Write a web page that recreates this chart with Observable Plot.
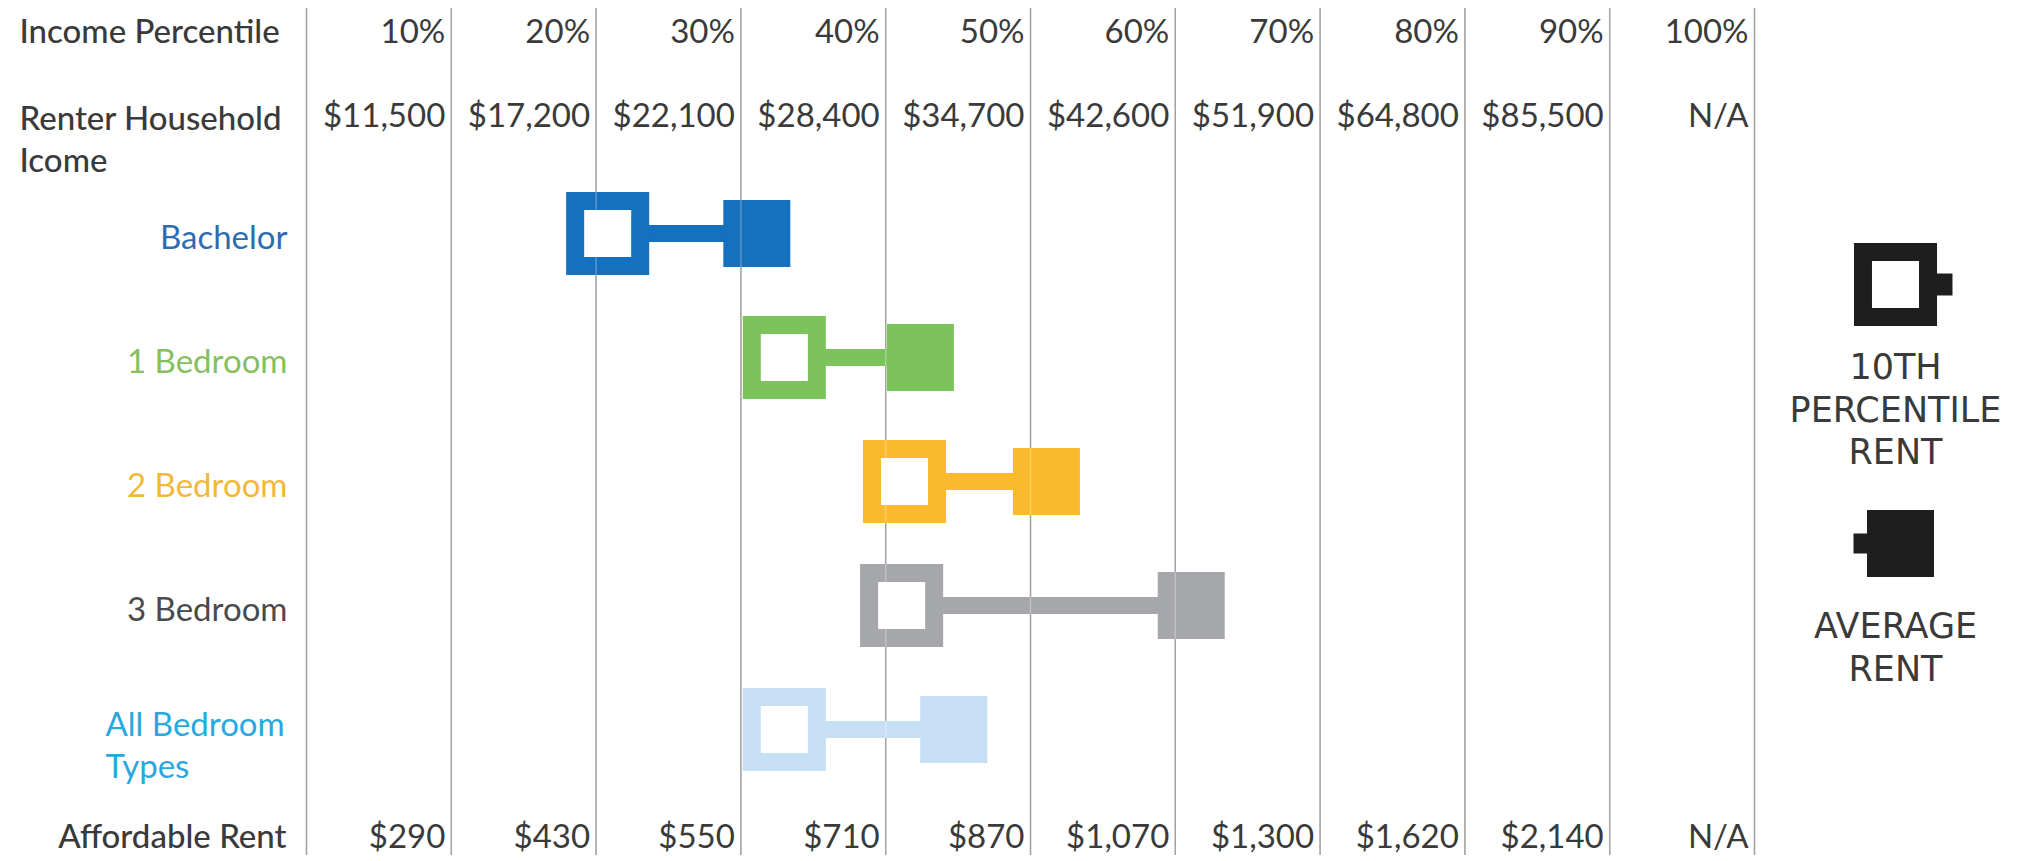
<!DOCTYPE html>
<html>
<head>
<meta charset="utf-8">
<script src="https://cdn.jsdelivr.net/npm/d3@7"></script>
<script src="https://cdn.jsdelivr.net/npm/@observablehq/plot@0.6"></script>
<style>
  html, body { margin: 0; padding: 0; background: #fff; }
  #wrap { display: flex; width: 2025px; height: 861px; overflow: hidden; }
</style>
</head>
<body>
<div id="wrap"></div>
<script>
// ---- Data ----
const percentiles = ["10%", "20%", "30%", "40%", "50%", "60%", "70%", "80%", "90%", "100%"];
const renterIncomes = ["$11,500", "$17,200", "$22,100", "$28,400", "$34,700", "$42,600", "$51,900", "$64,800", "$85,500", "N/A"];
const affordableRents = ["$290", "$430", "$550", "$710", "$870", "$1,070", "$1,300", "$1,620", "$2,140", "N/A"];
const unitTypes = ["Bachelor", "1 Bedroom", "2 Bedroom", "3 Bedroom", "All Bedroom Types"];
// rents expressed as a position on the income-percentile axis (where that rent is affordable)
const tenthPercentileRent = [20.8, 33.0, 41.3, 41.1, 33.0];
const averageRent = [31.1, 42.4, 51.1, 61.1, 44.7];
const legendItems = ["10TH\nPERCENTILE\nRENT", "AVERAGE\nRENT"];

// ---- Styles ----
const markerColors = ["#1570be", "#7dc35b", "#fbba2e", "#a6a7aa", "#c6dff4"];
const labelColors = ["#2c6db2", "#86bf5f", "#f2b83a", "#4a4a4a", "#29a8df"];

// ---- Tables built from the arrays ----
const colEnds = percentiles.map(p => parseFloat(p));
const bounds = [0, ...colEnds];
const rows = unitTypes.map((t, i) => ({
  type: t, tenth: tenthPercentileRent[i], avg: averageRent[i],
  color: markerColors[i], labelColor: labelColors[i]
}));
const header = percentiles.map((p, i) => ({x: colEnds[i], pct: p, income: renterIncomes[i], rent: affordableRents[i]}));

const textStyle = {fontSize: 33, fill: "#3a3a3a", lineAnchor: "middle"};

const chart = Plot.plot({
  width: 1780,
  height: 861,
  marginLeft: 306,
  marginRight: 26,
  marginTop: 8,
  marginBottom: 6,
  style: {fontFamily: "Lato", background: "#fff", overflow: "visible"},
  x: {domain: [0, 100], axis: null},
  y: {type: "point", domain: unitTypes, padding: 0, insetTop: 223.5, insetBottom: 125, axis: null},
  color: {type: "identity"},
  marks: [
    Plot.ruleX(bounds, {x: d => d, stroke: "#7a7a7a", strokeWidth: 1.4}),
    Plot.ruleY(rows, {x1: "tenth", x2: "avg", y: "type", stroke: "color", strokeWidth: 17}),
    Plot.dot(rows, {x: "tenth", y: "type", symbol: "square", r: 36.7, fill: "white", stroke: "color", strokeWidth: 18, strokeLinejoin: "miter"}),
    Plot.dot(rows, {x: "avg", y: "type", symbol: "square", r: 37.8, fill: "color"}),
    Plot.ruleX(bounds, {x: d => d, stroke: "white", strokeOpacity: 0.3, strokeWidth: 1.4}),
    // header rows
    Plot.text(header, {x: "x", text: "pct", frameAnchor: "top", dy: 24, dx: -6, textAnchor: "end", ...textStyle}),
    Plot.text(header, {x: "x", text: "income", frameAnchor: "top", dy: 108, dx: -6, textAnchor: "end", ...textStyle}),
    Plot.text(header, {x: "x", text: "rent", frameAnchor: "bottom", dy: -18, dx: -6, textAnchor: "end", ...textStyle}),
    Plot.text(["Income Percentile"], {text: d => d, frameAnchor: "top-left", dx: -287, dy: 24, textAnchor: "start", fontWeight: 500, ...textStyle}),
    Plot.text(["Renter Household Icome"], {text: d => d, frameAnchor: "top-left", dx: -287, dy: 129, textAnchor: "start", lineWidth: 9, lineHeight: 1.27, fontWeight: 500, ...textStyle}),
    Plot.text(["Affordable Rent"], {text: d => d, frameAnchor: "bottom-left", dx: -20, dy: -18, textAnchor: "end", fontWeight: 500, ...textStyle}),
    // row labels
    Plot.text(rows.slice(0, 4), {y: "type", text: "type", frameAnchor: "left", dx: -19, dy: 5, textAnchor: "end", fontSize: 33, fill: "labelColor"}),
    Plot.text(rows.slice(4), {y: "type", text: "type", frameAnchor: "left", dx: -201, dy: 14, textAnchor: "start", lineWidth: 7, lineHeight: 1.27, fontSize: 33, fill: "labelColor"})
  ]
});

const legend = Plot.plot({
  width: 245,
  height: 861,
  marginLeft: 0,
  marginRight: 15,
  marginTop: 0,
  marginBottom: 0,
  style: {fontFamily: "DejaVu Sans", background: "#fff", overflow: "visible"},
  y: {type: "point", domain: legendItems, padding: 0, insetTop: 284, insetBottom: 317.5, axis: null},
  marks: [
    Plot.dot([legendItems[0]], {y: d => d, frameAnchor: "middle", symbol: "square", r: 12.4, fill: "#1e1e1e", dx: 46}),
    Plot.dot([legendItems[0]], {y: d => d, frameAnchor: "middle", symbol: "square", r: 36.7, fill: "white", stroke: "#1e1e1e", strokeWidth: 18, strokeLinejoin: "miter"}),
    Plot.dot([legendItems[1]], {y: d => d, frameAnchor: "middle", symbol: "square", r: 11.3, fill: "#1e1e1e", dx: -32}),
    Plot.dot([legendItems[1]], {y: d => d, frameAnchor: "middle", symbol: "square", r: 37.8, fill: "#1e1e1e", dx: 5}),
    Plot.text(legendItems, {y: d => d, text: d => d, frameAnchor: "middle", lineAnchor: "top", dy: 64, fontSize: 35, lineHeight: 1.22, fill: "#3a3a3a"})
  ]
});

const wrap = document.getElementById("wrap");
wrap.appendChild(chart);
wrap.appendChild(legend);
</script>
</body>
</html>
